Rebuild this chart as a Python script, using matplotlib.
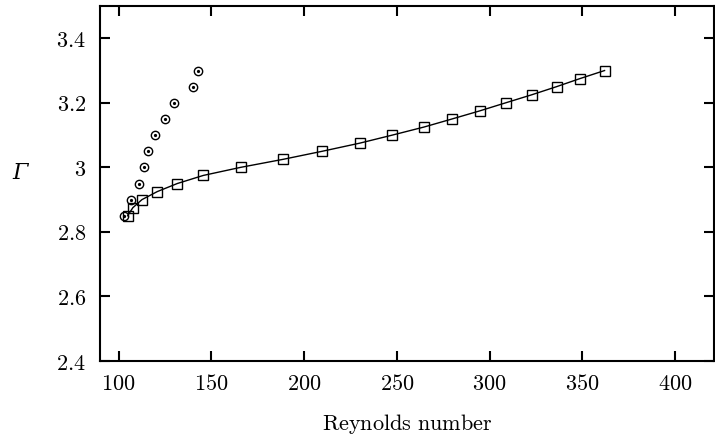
import matplotlib

matplotlib.use("Agg")
import matplotlib.pyplot as plt
from matplotlib.ticker import FuncFormatter

# square series (line + open squares)
re_square = [104.9, 107.7, 112.6, 120.9, 131.7, 145.7, 165.8, 188.8, 209.9, 230.0,
             247.6, 264.7, 279.8, 294.7, 308.7, 322.8, 336.1, 348.7, 362.0]
gamma_square = [2.85, 2.875, 2.9, 2.925, 2.95, 2.975, 3.0, 3.025, 3.05, 3.075,
                3.1, 3.125, 3.15, 3.175, 3.2, 3.225, 3.25, 3.275, 3.3]

# circle series (dotted circles, no line)
re_circle = [102.9, 106.9, 110.9, 113.6, 116.0, 119.9, 124.9, 130.0, 140.1, 143.0]
gamma_circle = [2.85, 2.9, 2.95, 3.0, 3.05, 3.1, 3.15, 3.2, 3.25, 3.3]

x_ticks = [100, 150, 200, 250, 300, 350, 400]
y_ticks = [2.4, 2.6, 2.8, 3.0, 3.2, 3.4]

plt.rcParams["mathtext.fontset"] = "cm"
plt.rcParams["font.family"] = "serif"
plt.rcParams["font.serif"] = ["DejaVu Serif"]


def fmt(v, _pos):
  return f"$\\mathrm{{{v:g}}}$"


fig = plt.figure(figsize=(7.15, 4.41), dpi=100)
ax = fig.add_axes([100 / 715, 80 / 441, 614 / 715, 355 / 441])

ax.plot(re_square, gamma_square, color="black", linewidth=1.0, marker="s",
        markersize=6.5, markerfacecolor="none", markeredgecolor="black", markeredgewidth=1.0)
ax.plot(re_circle, gamma_circle, linestyle="none", marker="o", markersize=6,
        markerfacecolor="none", markeredgecolor="black", markeredgewidth=1.0)
ax.plot(re_circle, gamma_circle, linestyle="none", marker="o", markersize=1.3,
        color="black")

ax.set_xlim(90, 421)
ax.set_ylim(2.4, 3.5)
ax.set_xticks(x_ticks)
ax.set_yticks(y_ticks)
ax.xaxis.set_major_formatter(FuncFormatter(fmt))
ax.yaxis.set_major_formatter(FuncFormatter(fmt))

ax.tick_params(direction="in", length=7.5, width=1.5, top=True, right=True,
               labelsize=16)
ax.tick_params(axis="x", pad=9)
ax.tick_params(axis="y", pad=10)
for spine in ax.spines.values():
  spine.set_linewidth(1.5)

ax.set_xlabel(r"$\mathrm{Reynolds\ number}$", fontsize=16, labelpad=12)
ax.set_ylabel("Γ", fontsize=16, fontstyle="italic", family="DejaVu Serif",
              rotation=0, labelpad=32, va="center")
ax.yaxis.set_label_coords(-0.13, 0.53)

fig.savefig("out.png", dpi=100)
plt.close(fig)
